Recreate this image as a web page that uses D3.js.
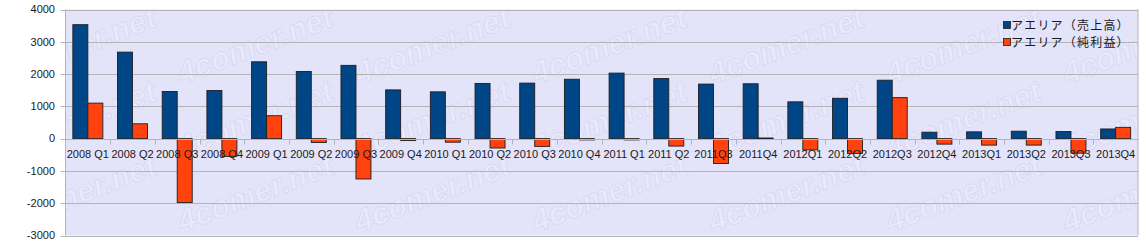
<!DOCTYPE html>
<html>
<head>
<meta charset="utf-8">
<script src="https://cdn.jsdelivr.net/npm/d3@7"></script>
<style>
  body { margin: 0; background: #fff; }
  svg { display: block; }
</style>
</head>
<body>
<svg id="chart" width="1146" height="249"></svg>
<script>
// quarters along the x axis
const categories = [
  '2008 Q1', '2008 Q2', '2008 Q3', '2008 Q4',
  '2009 Q1', '2009 Q2', '2009 Q3', '2009 Q4',
  '2010 Q1', '2010 Q2', '2010 Q3', '2010 Q4',
  '2011 Q1', '2011 Q2', '2011Q3', '2011Q4',
  '2012Q1', '2012Q2', '2012Q3', '2012Q4',
  '2013Q1', '2013Q2', '2013Q3', '2013Q4'
];

// 売上高
const sales = [
  3530, 2680, 1460, 1490,
  2380, 2080, 2270, 1510,
  1450, 1710, 1720, 1840,
  2030, 1860, 1690, 1700,
  1140, 1250, 1810, 200,
  210, 230, 220, 300
];

// 純利益
const profit = [
  1100, 460, -1980, -550,
  710, -120, -1250, -60,
  -110, -290, -240, -40,
  -40, -230, -770, 20,
  -350, -460, 1270, -170,
  -200, -200, -450, 350
];

const seriesNames = ['アエリア（売上高）', 'アエリア（純利益）'];
const yTicks = [4000, 3000, 2000, 1000, 0, -1000, -2000, -3000];

const colors = ['#004586', '#ff420e'];

const plot = { left: 65.5, right: 1138, top: 9.5, bottom: 235.5 };

const svg = d3.select('#chart');

const x = d3.scaleBand()
  .domain(categories)
  .range([plot.left, plot.right]);

const xs = d3.scaleBand()
  .domain([0, 1])
  .range([0, x.bandwidth()])
  .paddingOuter(0.49);

const y = d3.scaleLinear()
  .domain([-3000, 4000])
  .range([plot.bottom, plot.top]);

// plot background
svg.append('rect')
  .attr('x', plot.left)
  .attr('y', plot.top)
  .attr('width', plot.right - plot.left)
  .attr('height', plot.bottom - plot.top)
  .attr('fill', '#e3e3fa');

// faint watermark tiles, kept inside the plot area
svg.append('clipPath')
  .attr('id', 'plot-clip')
  .append('rect')
    .attr('x', plot.left)
    .attr('y', plot.top)
    .attr('width', plot.right - plot.left)
    .attr('height', plot.bottom - plot.top);

const marks = svg.append('g').attr('clip-path', 'url(#plot-clip)');
for (let col = 0; col < 7; col++) {
  for (let row = 0; row < 3; row++) {
    const cx = 78 + col * 177;
    const cy = 45 + row * 74;
    marks.append('text')
      .attr('transform', `translate(${cx},${cy}) rotate(-21)`)
      .attr('text-anchor', 'middle')
      .attr('dy', '0.35em')
      .attr('font-family', 'Liberation Sans, Arial, sans-serif')
      .attr('font-weight', 'bold')
      .attr('font-style', 'italic')
      .attr('font-size', 31)
      .attr('fill', 'rgba(255,255,255,0.22)')
      .attr('stroke', 'rgba(195,195,238,0.35)')
      .attr('stroke-width', 1)
      .text('4comer.net');
  }
}

// horizontal grid lines, with short outer ticks on the left
svg.append('g')
  .selectAll('line')
  .data(yTicks)
  .enter()
  .append('line')
    .attr('x1', plot.left - 5)
    .attr('x2', plot.right)
    .attr('y1', d => Math.round(y(d)) + 0.5)
    .attr('y2', d => Math.round(y(d)) + 0.5)
    .attr('stroke', '#b4b4b4')
    .attr('stroke-width', 1);

// frame
svg.append('line')
  .attr('x1', plot.left).attr('x2', plot.left)
  .attr('y1', plot.top).attr('y2', plot.bottom)
  .attr('stroke', '#b4b4b4');
svg.append('line')
  .attr('x1', plot.right).attr('x2', plot.right)
  .attr('y1', plot.top).attr('y2', plot.bottom)
  .attr('stroke', '#b4b4b4');

// y labels
svg.append('g')
  .selectAll('text')
  .data(yTicks)
  .enter()
  .append('text')
    .attr('x', 55)
    .attr('y', d => y(d))
    .attr('dy', '0.35em')
    .attr('text-anchor', 'end')
    .attr('font-family', 'Liberation Sans, Arial, sans-serif')
    .attr('font-size', 11)
    .attr('fill', '#1a1a1a')
    .text(d => d);

// bars
[sales, profit].forEach((values, s) => {
  svg.append('g')
    .selectAll('rect')
    .data(values)
    .enter()
    .append('rect')
      .attr('x', (d, i) => x(categories[i]) + xs(s))
      .attr('y', d => y(Math.max(0, d)))
      .attr('width', xs.bandwidth())
      .attr('height', d => Math.abs(y(d) - y(0)))
      .attr('fill', colors[s])
      .attr('stroke', '#1e1e1e')
      .attr('stroke-width', 0.9);
});

// zero line and category ticks
const zeroY = Math.round(y(0)) + 0.5;
svg.append('line')
  .attr('x1', plot.left).attr('x2', plot.right)
  .attr('y1', zeroY).attr('y2', zeroY)
  .attr('stroke', '#b4b4b4');

svg.append('g')
  .selectAll('line')
  .data(categories.slice(1))
  .enter()
  .append('line')
    .attr('x1', d => Math.round(x(d)) + 0.5)
    .attr('x2', d => Math.round(x(d)) + 0.5)
    .attr('y1', zeroY)
    .attr('y2', zeroY + 5)
    .attr('stroke', '#b4b4b4');

// category labels
svg.append('g')
  .selectAll('text')
  .data(categories)
  .enter()
  .append('text')
    .attr('x', d => x(d) + x.bandwidth() / 2)
    .attr('y', 158)
    .attr('text-anchor', 'middle')
    .attr('font-family', 'Liberation Sans, Arial, sans-serif')
    .attr('font-size', 11)
    .attr('fill', '#1a1a1a')
    .text(d => d);

// legend
const legend = svg.append('g')
  .attr('transform', 'translate(1003, 21)');

legend.selectAll('rect')
  .data(seriesNames)
  .enter()
  .append('rect')
    .attr('x', 0.5)
    .attr('y', (d, i) => i * 17 + 0.5)
    .attr('width', 7)
    .attr('height', 7)
    .attr('fill', (d, i) => colors[i])
    .attr('stroke', '#1e1e1e')
    .attr('stroke-width', 0.8);

legend.selectAll('text')
  .data(seriesNames)
  .enter()
  .append('text')
    .attr('x', 8)
    .attr('y', (d, i) => i * 17 + 4)
    .attr('dy', '0.38em')
    .attr('font-family', 'Noto Sans CJK JP, sans-serif')
    .attr('font-size', 12)
    .attr('letter-spacing', 1.2)
    .attr('fill', '#1a1a1a')
    .text(d => d);
</script>
</body>
</html>
